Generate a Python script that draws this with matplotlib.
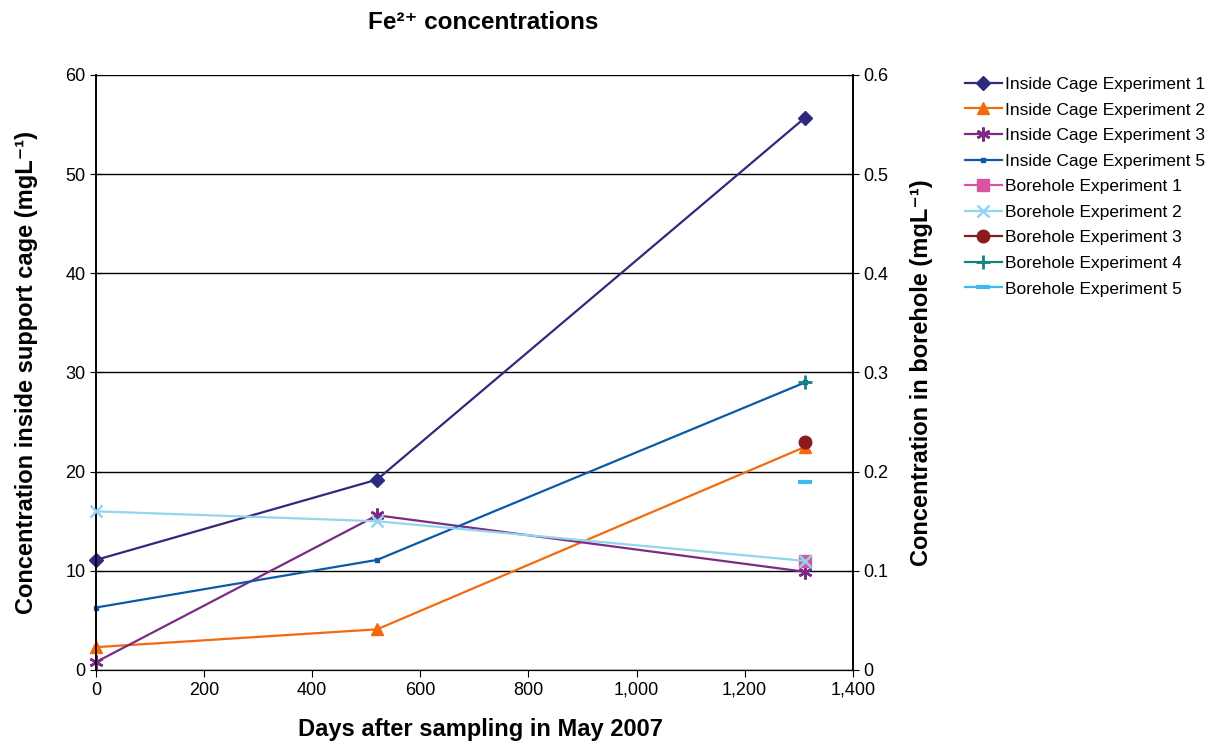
import matplotlib.pyplot as plt
from matplotlib.ticker import FuncFormatter

plt.rcParams['font.family'] = ['Liberation Sans', 'DejaVu Sans']

days = [0, 520, 1312]
cage1 = [11.1, 19.2, 55.7]
cage2 = [2.3, 4.1, 22.5]
cage3 = [0.8, 15.6, 9.9]
cage5 = [6.3, 11.1, 29.0]

bh1_days = [1312]
bh1 = [0.11]
bh2_days = [0, 520, 1312]
bh2 = [0.16, 0.15, 0.11]
bh3_days = [1312]
bh3 = [0.23]
bh4_days = [1312]
bh4 = [0.29]
bh5_days = [1312]
bh5 = [0.19]

fig = plt.figure(figsize=(12.19, 7.46), dpi=100)
ax = fig.add_axes([0.0788, 0.1019, 0.6207, 0.7976])
ax2 = ax.twinx()

lines = []
lines += ax.plot(days, cage1, color='#2E2A7E', marker='D', ms=7, lw=1.6, label='Inside Cage Experiment 1')
lines += ax.plot(days, cage2, color='#F26A10', marker='^', ms=9, lw=1.6, label='Inside Cage Experiment 2')
lines += ax.plot(days, cage3, color='#7B2B84', marker=(6, 2, 0), ms=10, mew=1.8, lw=1.6, label='Inside Cage Experiment 3')
lines += ax.plot(days, cage5, color='#0B5AA8', marker='s', ms=3, lw=1.6, label='Inside Cage Experiment 5')
lines += ax2.plot(bh1_days, bh1, color='#D6559E', marker='s', ms=8, lw=1.6, label='Borehole Experiment 1')
lines += ax2.plot(bh2_days, bh2, color='#93D4EE', marker='x', ms=9, mew=1.8, lw=1.6, label='Borehole Experiment 2')
lines += ax2.plot(bh3_days, bh3, color='#8B1A1A', marker='o', ms=9, lw=1.6, label='Borehole Experiment 3')
lines += ax2.plot(bh4_days, bh4, color='#14847F', marker='+', ms=10, mew=2, lw=1.6, label='Borehole Experiment 4')
lines += ax2.plot(bh5_days, bh5, color='#3DBCEB', marker='_', ms=10, mew=3, lw=1.6, label='Borehole Experiment 5')
for ln in lines:
    ln.set_clip_on(False)
    ln.set_zorder(3)

ax.set_xlim(0, 1400)
ax.set_ylim(0, 60)
ax2.set_ylim(0, 0.6)
ax.set_xticks(range(0, 1401, 200))
ax.set_yticks(range(0, 61, 10))
ax2.set_yticks([0, 0.1, 0.2, 0.3, 0.4, 0.5, 0.6])
ax2.set_yticklabels(['0', '0.1', '0.2', '0.3', '0.4', '0.5', '0.6'])
ax.xaxis.set_major_formatter(FuncFormatter(lambda v, p: f'{int(v):,}'))
ax.grid(axis='y', color='black', lw=1)
ax.set_axisbelow(True)
for a in (ax, ax2):
    a.tick_params(labelsize=13, length=5)
    a.tick_params(axis='y', direction='inout', length=8)
    a.spines['top'].set_visible(False)
    a.spines['left'].set_linewidth(1.2)
    a.spines['right'].set_linewidth(1.2)

ax.set_xlabel('Days after sampling in May 2007', fontsize=17, fontweight='bold', labelpad=16)
ax.xaxis.set_label_coords(0.508, -0.08)
ax.set_ylabel('Concentration inside support cage (mgL\u207b\u00b9)', fontsize=17, fontweight='bold', labelpad=20)
ax2.set_ylabel('Concentration in borehole (mgL\u207b\u00b9)', fontsize=17, fontweight='bold', labelpad=16)
fig.suptitle('Fe\u00b2\u207a concentrations', x=0.396, y=0.985, fontsize=17.5, fontweight='bold')

fig.legend(lines, [l.get_label() for l in lines], loc='upper left', bbox_to_anchor=(0.779, 0.918),
           frameon=False, fontsize=12.5, handlelength=2.1, labelspacing=0.6, handletextpad=0.2)

plt.savefig('out.png', dpi=100)
